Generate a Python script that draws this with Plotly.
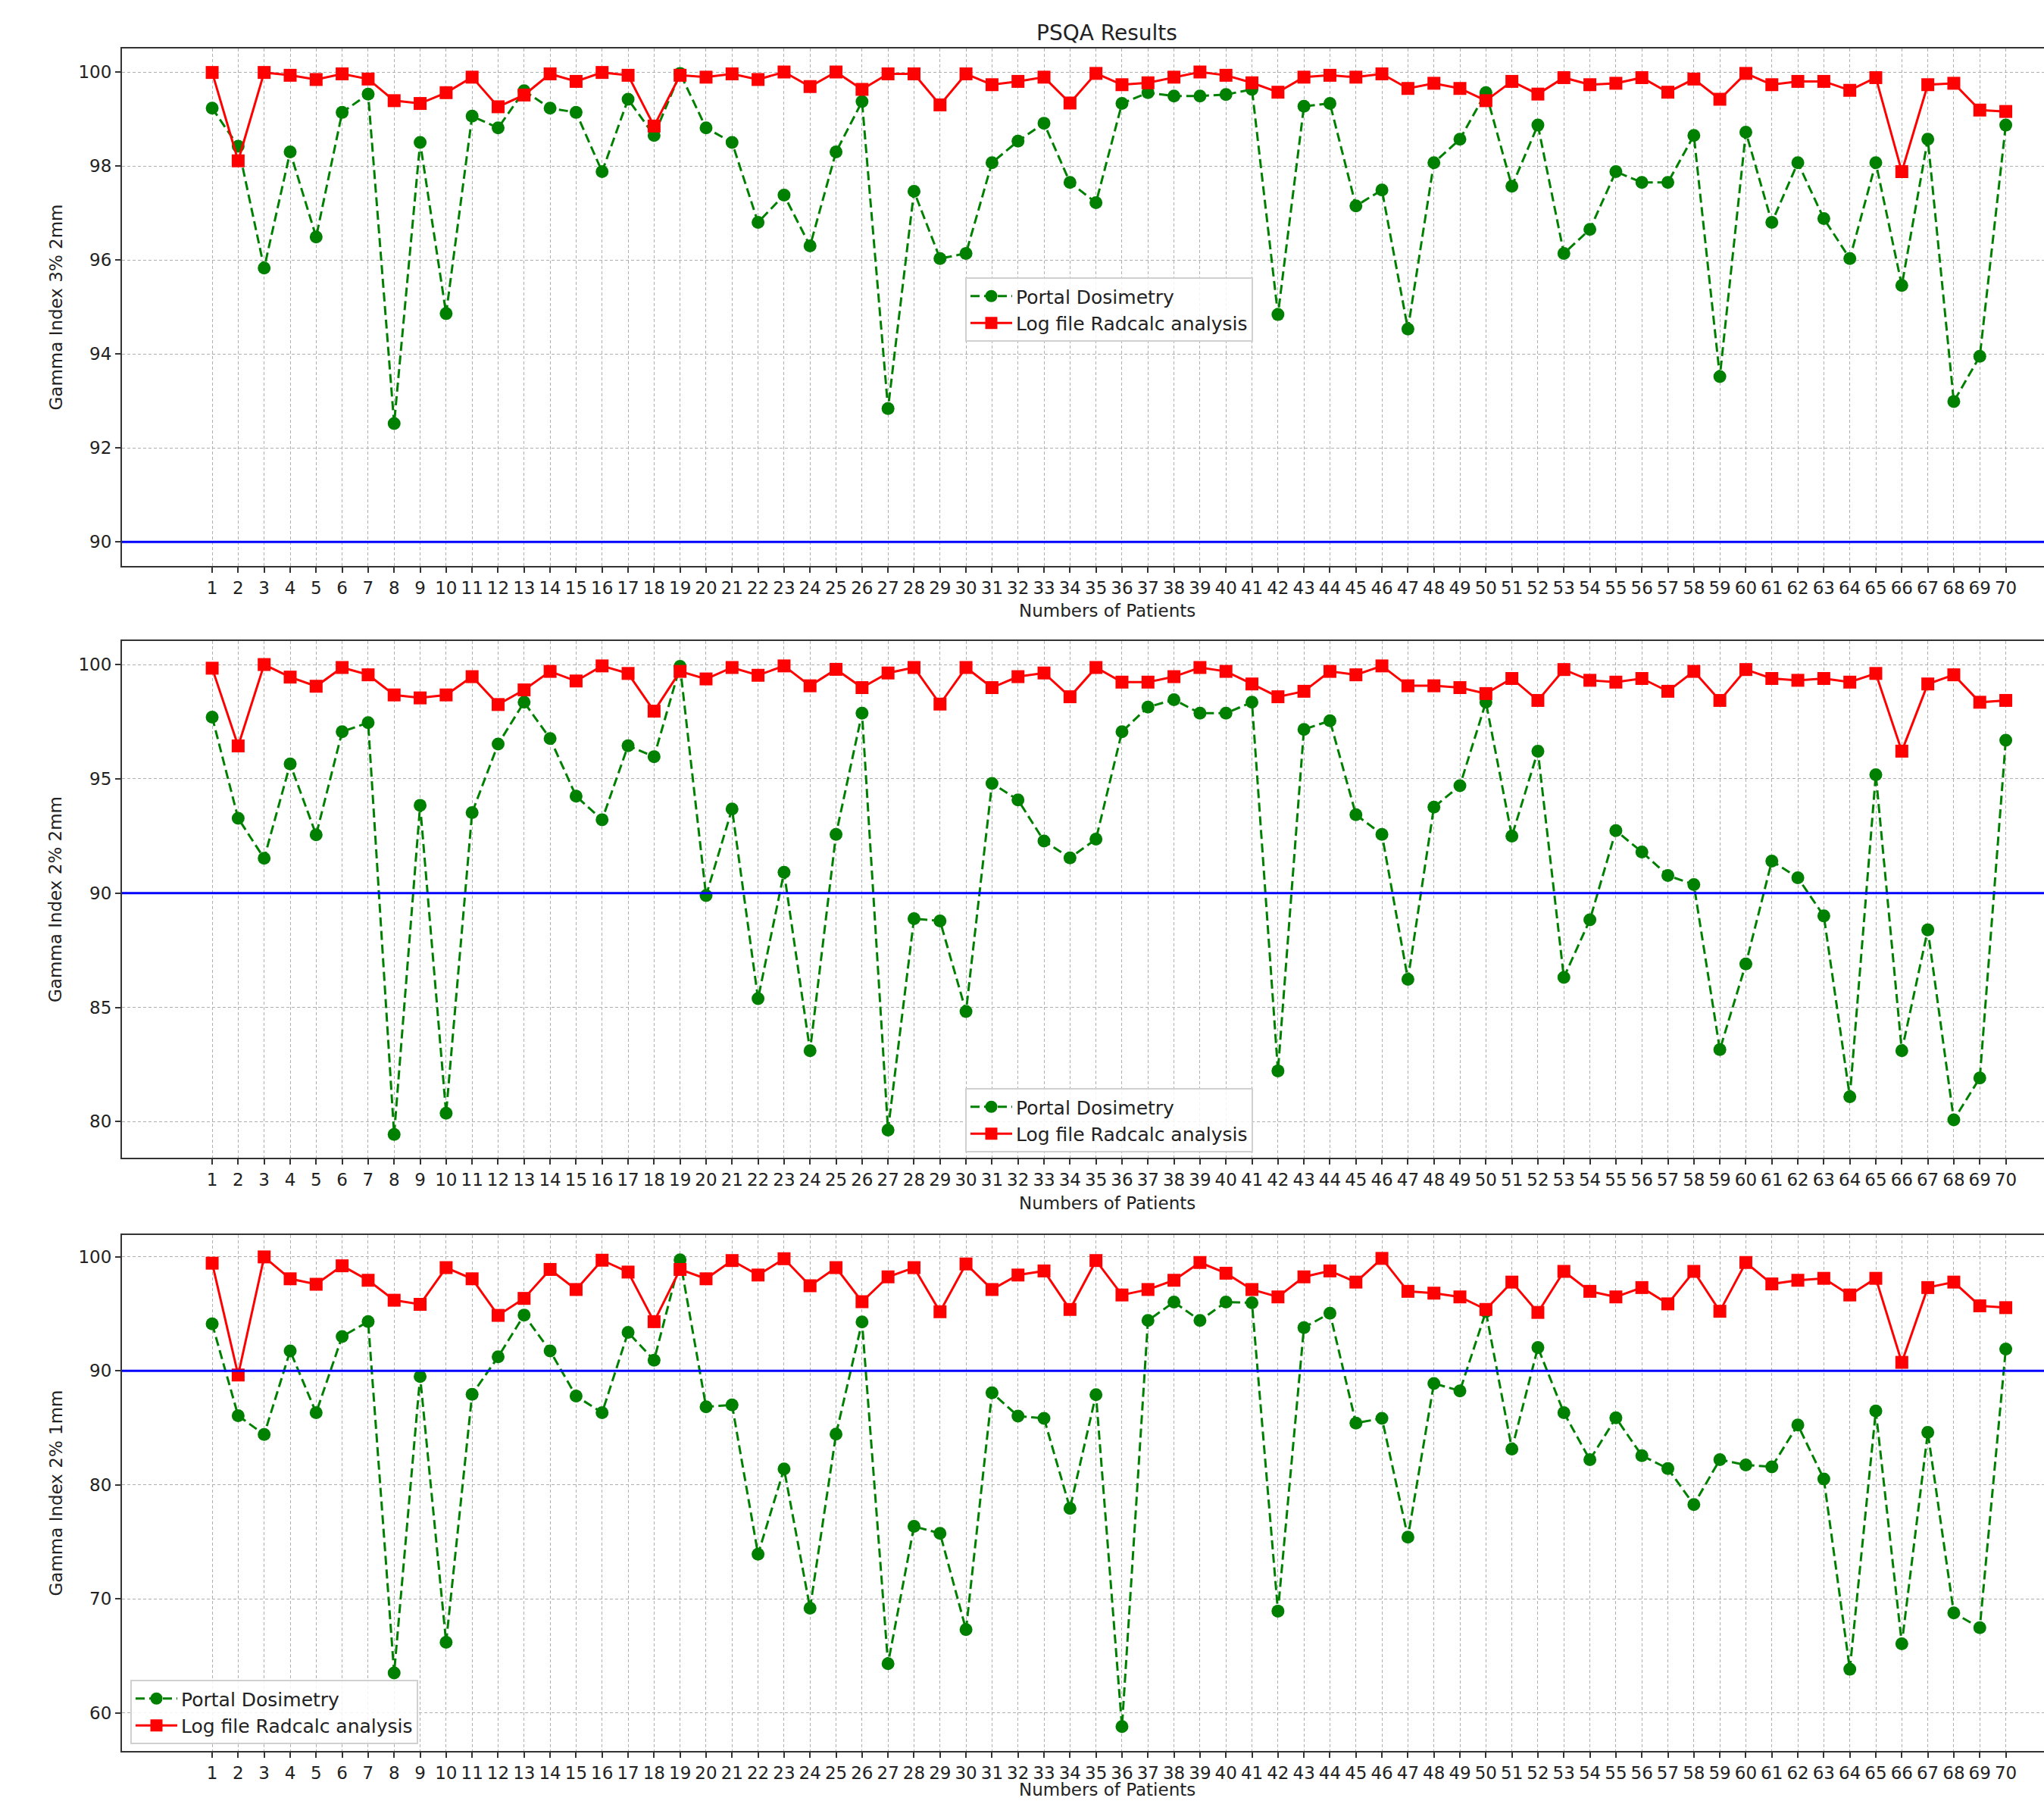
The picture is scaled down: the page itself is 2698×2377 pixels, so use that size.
import plotly.graph_objects as go

# ---------------- data ----------------
patients = list(range(1, 71))
tick_labels = [str(p) for p in patients]

pd_3_2 = [99.23, 98.42, 95.83, 98.30, 96.49, 99.14, 99.53, 92.52, 98.50, 94.86,
          99.06, 98.81, 99.60, 99.23, 99.14, 97.88, 99.42, 98.65, 99.97, 98.81,
          98.50, 96.80, 97.38, 96.30, 98.30, 99.37, 92.84, 97.46, 96.03, 96.14,
          98.07, 98.53, 98.91, 97.65, 97.22, 99.33, 99.56, 99.49, 99.49, 99.52,
          99.63, 94.84, 99.27, 99.33, 97.15, 97.49, 94.53, 98.07, 98.57, 99.56,
          97.57, 98.87, 96.14, 96.65, 97.88, 97.65, 97.65, 98.65, 93.52, 98.72,
          96.80, 98.07, 96.88, 96.03, 98.07, 95.46, 98.57, 92.99, 93.95, 98.87]
log_3_2 = [99.99, 98.11, 99.99, 99.93, 99.84, 99.96, 99.85, 99.39, 99.33, 99.56,
           99.89, 99.26, 99.51, 99.96, 99.80, 99.99, 99.93, 98.85, 99.93, 99.89,
           99.96, 99.84, 100.0, 99.69, 100.0, 99.63, 99.96, 99.96, 99.30, 99.96,
           99.73, 99.80, 99.89, 99.34, 99.97, 99.73, 99.77, 99.89, 100.0, 99.93,
           99.77, 99.57, 99.89, 99.93, 99.89, 99.96, 99.65, 99.76, 99.65, 99.39,
           99.80, 99.53, 99.88, 99.73, 99.76, 99.88, 99.57, 99.85, 99.42, 99.97,
           99.73, 99.80, 99.80, 99.61, 99.88, 97.88, 99.73, 99.76, 99.19, 99.16]

pd_2_2 = [97.70, 93.27, 91.52, 95.65, 92.55, 97.06, 97.46, 79.44, 93.84, 80.37,
          93.52, 96.52, 98.35, 96.76, 94.24, 93.21, 96.45, 95.97, 99.92, 89.89,
          93.68, 85.38, 90.91, 83.10, 92.57, 97.87, 79.63, 88.88, 88.78, 84.82,
          94.80, 94.08, 92.28, 91.54, 92.36, 97.06, 98.14, 98.46, 97.87, 97.87,
          98.35, 82.22, 97.16, 97.54, 93.43, 92.57, 86.23, 93.76, 94.70, 98.35,
          92.49, 96.21, 86.31, 88.83, 92.73, 91.80, 90.77, 90.37, 83.15, 86.90,
          91.40, 90.67, 89.00, 81.09, 95.18, 83.10, 88.39, 80.08, 81.91, 96.69]
log_2_2 = [99.84, 96.44, 100.0, 99.45, 99.05, 99.87, 99.55, 98.67, 98.54, 98.67,
           99.47, 98.25, 98.89, 99.70, 99.28, 99.94, 99.61, 97.96, 99.70, 99.37,
           99.87, 99.53, 99.94, 99.07, 99.79, 98.99, 99.63, 99.87, 98.27, 99.87,
           98.99, 99.47, 99.63, 98.59, 99.87, 99.23, 99.23, 99.47, 99.87, 99.70,
           99.15, 98.59, 98.83, 99.70, 99.55, 99.94, 99.07, 99.07, 98.99, 98.73,
           99.39, 98.43, 99.78, 99.31, 99.23, 99.39, 98.83, 99.70, 98.43, 99.78,
           99.39, 99.31, 99.39, 99.23, 99.61, 96.21, 99.15, 99.55, 98.35, 98.43]

pd_2_1 = [94.12, 86.07, 84.42, 91.75, 86.33, 93.02, 94.32, 63.51, 89.51, 66.20,
          87.95, 91.23, 94.90, 91.75, 87.79, 86.33, 93.38, 90.94, 99.74, 86.85,
          87.01, 73.93, 81.40, 69.19, 84.45, 94.29, 64.32, 76.36, 75.75, 67.31,
          88.08, 86.04, 85.84, 77.95, 87.92, 58.80, 94.42, 96.04, 94.42, 96.04,
          95.97, 68.93, 93.80, 95.06, 85.42, 85.84, 75.42, 88.90, 88.25, 95.20,
          83.15, 92.05, 86.33, 82.21, 85.88, 82.57, 81.43, 78.28, 82.21, 81.75,
          81.59, 85.26, 80.52, 63.83, 86.49, 66.07, 84.61, 68.77, 67.47, 91.92]
log_2_1 = [99.45, 89.64, 100.0, 98.08, 97.60, 99.22, 97.95, 96.20, 95.84, 99.06,
           98.08, 94.87, 96.36, 98.90, 97.14, 99.71, 98.67, 94.32, 98.90, 98.08,
           99.68, 98.41, 99.84, 97.47, 99.06, 96.07, 98.25, 99.06, 95.19, 99.38,
           97.14, 98.41, 98.77, 95.39, 99.68, 96.66, 97.14, 97.95, 99.51, 98.57,
           97.14, 96.49, 98.25, 98.77, 97.79, 99.87, 96.98, 96.82, 96.49, 95.39,
           97.79, 95.13, 98.73, 96.98, 96.49, 97.31, 95.88, 98.73, 95.23, 99.51,
           97.63, 97.95, 98.12, 96.66, 98.12, 90.75, 97.31, 97.79, 95.71, 95.55]

panels = [
    dict(pd=pd_3_2, log=log_3_2, ylabel="Gamma Index 3% 2mm",
         yticks=[90, 92, 94, 96, 98, 100], yrange=[89.49, 100.50]),
    dict(pd=pd_2_2, log=log_2_2, ylabel="Gamma Index 2% 2mm",
         yticks=[80, 85, 90, 95, 100], yrange=[78.42, 101.03]),
    dict(pd=pd_2_1, log=log_2_1, ylabel="Gamma Index 2% 1mm",
         yticks=[60, 70, 80, 90, 100], yrange=[56.66, 101.92]),
]
threshold = 90

# ---------------- layout geometry (pixels) ----------------
W, H = 2698, 2377
left_px = 161
panel_px = [(64, 747), (846, 1528), (1630, 2311)]   # top, bottom
legend_px = [(1274, 366), (1274, 1436), (172, 2217)]
xlabel_y_px = [806, 1588, 2362]
ylabel_x_px = 73

FONT = "DejaVu Sans"
GREEN, RED, BLUE = "#008000", "#ff0000", "#0000ff"
TICK = 23

fig = go.Figure()
legends = ["legend", "legend2", "legend3"]

for i, p in enumerate(panels):
    n = "" if i == 0 else str(i + 1)
    fig.add_trace(go.Scatter(
        x=patients, y=p["pd"], mode="lines+markers", name="Portal Dosimetry",
        xaxis="x" + n, yaxis="y" + n, legend=legends[i],
        line=dict(color=GREEN, width=3, dash="12px,6px"),
        marker=dict(symbol="circle", size=17, color=GREEN)))
    fig.add_trace(go.Scatter(
        x=patients, y=p["log"], mode="lines+markers", name="Log file Radcalc analysis",
        xaxis="x" + n, yaxis="y" + n, legend=legends[i],
        line=dict(color=RED, width=3),
        marker=dict(symbol="square", size=17, color=RED)))

layout = dict(
    width=W, height=H, margin=dict(l=0, r=0, t=0, b=0),
    paper_bgcolor="white", plot_bgcolor="white",
    font=dict(family=FONT, size=TICK, color="#222"),
    shapes=[], annotations=[],
)

for i, p in enumerate(panels):
    n = "" if i == 0 else str(i + 1)
    top, bot = panel_px[i]
    ydom = [1 - bot / H, 1 - top / H]
    layout["xaxis" + n] = dict(
        domain=[left_px / W, 1], anchor="y" + n, range=[-2.47, 71.47],
        tickmode="array", tickvals=patients, ticktext=tick_labels,
        showgrid=True, gridcolor="#b0b0b0", gridwidth=1, griddash="4px,3px",
        zeroline=False, showline=True, linecolor="#333", linewidth=2, mirror=True,
        ticks="outside", ticklen=7, tickcolor="#333", tickwidth=2,
        tickfont=dict(size=TICK, color="#222"), automargin=False)
    layout["yaxis" + n] = dict(
        domain=ydom, anchor="x" + n, range=p["yrange"],
        tickmode="array", tickvals=p["yticks"], ticktext=[str(v) for v in p["yticks"]],
        showgrid=True, gridcolor="#b0b0b0", gridwidth=1, griddash="4px,3px",
        zeroline=False, showline=True, linecolor="#333", linewidth=2, mirror=False,
        ticks="outside", ticklen=7, tickcolor="#333", tickwidth=2,
        tickfont=dict(size=TICK, color="#222"), automargin=False)
    layout["shapes"].append(dict(
        type="line", xref="x" + n + " domain", yref="y" + n, x0=0, x1=1,
        y0=threshold, y1=threshold, line=dict(color=BLUE, width=3), layer="above"))
    layout["annotations"].append(dict(
        text=p["ylabel"], xref="paper", yref="paper", x=ylabel_x_px / W,
        y=(ydom[0] + ydom[1]) / 2, textangle=-90, showarrow=False,
        xanchor="center", yanchor="middle", font=dict(size=TICK, color="#222")))
    layout["annotations"].append(dict(
        text="Numbers of Patients", xref="paper", yref="paper", x=1461 / W,
        y=1 - xlabel_y_px[i] / H, showarrow=False, xanchor="center", yanchor="middle",
        font=dict(size=TICK, color="#222")))
    lx, ly = legend_px[i]
    layout[legends[i]] = dict(
        x=lx / W, y=1 - ly / H, xanchor="left", yanchor="top",
        bgcolor="rgba(255,255,255,0.85)", bordercolor="#d0d0d0", borderwidth=2,
        font=dict(size=25, color="#222"), tracegroupgap=2, itemwidth=55)

layout["annotations"].append(dict(
    text="PSQA Results", xref="paper", yref="paper", x=1461 / W, y=1 - 43 / H,
    showarrow=False, xanchor="center", yanchor="middle",
    font=dict(size=28, color="#222")))

fig.update_layout(**layout)
fig.update_layout(showlegend=True)
fig.write_html(
    "out.html",
    config={"displayModeBar": False},
    post_script="document.body.style.margin='0px';document.body.style.overflow='hidden';",
)
